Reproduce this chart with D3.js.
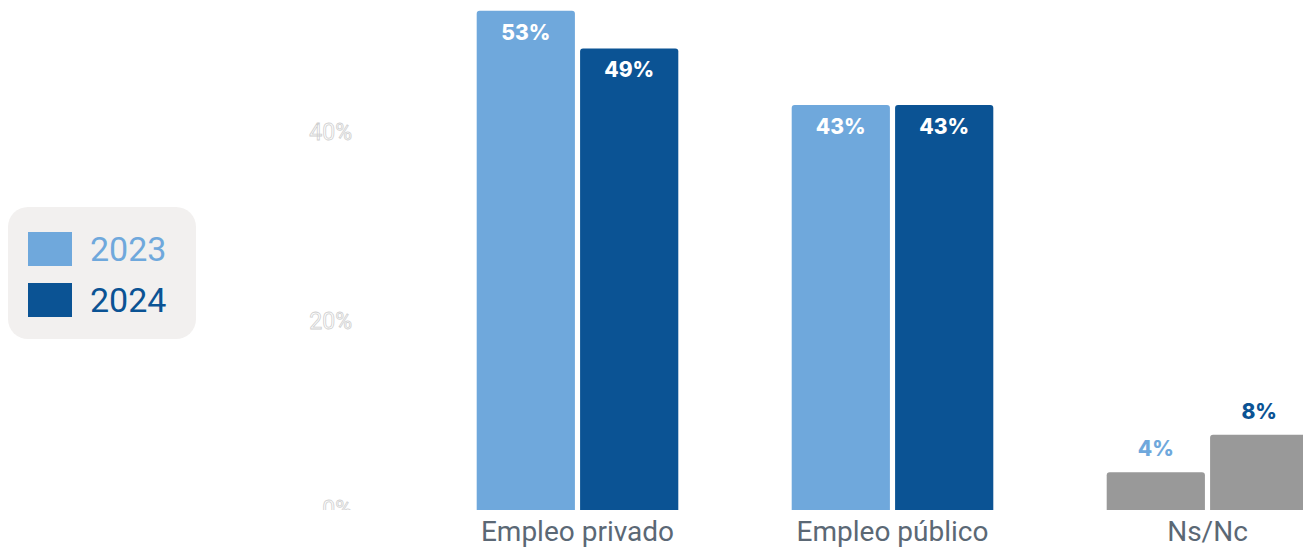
<!DOCTYPE html>
<html>
<head>
<meta charset="utf-8">
<script src="https://cdn.jsdelivr.net/npm/d3@7"></script>
<style>
  html, body { margin: 0; padding: 0; background: #fff; }
  svg { display: block; font-family: Roboto, "Noto Sans", sans-serif; }
</style>
</head>
<body>
<div id="chart"></div>
<script>
// datos
const categorias = ["Empleo privado", "Empleo público", "Ns/Nc"];
const anios = ["2023", "2024"];
const valores2023 = [53, 43, 4];
const valores2024 = [49, 43, 8];
const ticksY = [0, 20, 40];

const colores = { "2023": "#6fa8dc", "2024": "#0b5394" };
const gris = "#999999";

const W = 1303, H = 548;
const base = 510; // línea del 0%

const svg = d3.select("#chart").append("svg")
    .attr("width", W)
    .attr("height", H);

const datos = categorias.map((c, i) => ({
    cat: c,
    vals: [
        { anio: "2023", v: valores2023[i] },
        { anio: "2024", v: valores2024[i] }
    ]
}));

// escalas
const x0 = d3.scaleBand()
    .domain(categorias)
    .range([420, 1365])
    .paddingInner(0.36)
    .paddingOuter(0.18);

const x1 = d3.scaleBand()
    .domain(anios)
    .range([0, x0.bandwidth()])
    .paddingInner(0.05);

const y = d3.scaleLinear()
    .domain([0, 20])
    .range([base, base - 188.4]);

// clip para el eje (el 0% queda cortado)
svg.append("defs").append("clipPath").attr("id", "clipY")
    .append("rect").attr("x", 0).attr("y", 0).attr("width", W).attr("height", base);

// eje Y: etiquetas blancas con borde gris
svg.append("g")
    .attr("clip-path", "url(#clipY)")
    .selectAll("text")
    .data(ticksY)
    .enter()
    .append("text")
    .attr("x", 352)
    .attr("y", d => y(d) - 1)
    .attr("dy", "0.36em")
    .attr("text-anchor", "end")
    .style("font-size", "23px")
    .style("fill", "#fff")
    .style("stroke", "#cfcfcf")
    .style("stroke-width", 0.8)
    .text(d => d + "%");

// barra con esquinas superiores redondeadas
function barPath(x, yTop, w, h, r) {
    r = Math.min(r, h / 2, w / 2);
    return `M${x},${yTop + h}V${yTop + r}Q${x},${yTop} ${x + r},${yTop}` +
        `H${x + w - r}Q${x + w},${yTop} ${x + w},${yTop + r}V${yTop + h}Z`;
}

const grupos = svg.selectAll(".grupo")
    .data(datos)
    .enter()
    .append("g")
    .attr("class", "grupo")
    .attr("transform", d => `translate(${x0(d.cat)},0)`);

grupos.selectAll("path")
    .data(d => d.vals.map(v => ({ ...v, cat: d.cat })))
    .enter()
    .append("path")
    .attr("d", d => barPath(x1(d.anio), y(d.v), x1.bandwidth(), base - y(d.v), 3))
    .attr("fill", d => d.cat === "Ns/Nc" ? gris : colores[d.anio]);

// etiquetas de valor
grupos.selectAll(".valor")
    .data(d => d.vals.map(v => ({ ...v, cat: d.cat })))
    .enter()
    .append("text")
    .attr("class", "valor")
    .attr("x", d => x1(d.anio) + x1.bandwidth() / 2)
    .attr("y", d => d.v > 15 ? y(d.v) + 29 : y(d.v) - 16)
    .attr("text-anchor", "middle")
    .style("font-family", "Inter, Roboto, sans-serif")
    .style("font-size", "21px")
    .style("font-weight", 800)
    .style("paint-order", "stroke")
    .style("stroke", d => d.v > 15 ? "none" : "#fff")
    .style("stroke-width", 4)
    .style("stroke-linejoin", "round")
    .style("fill", d => d.v > 15 ? "#fff" : colores[d.anio])
    .text(d => d.v + "%");

// eje X
svg.append("g")
    .selectAll("text")
    .data(categorias)
    .enter()
    .append("text")
    .attr("x", d => x0(d) + x0.bandwidth() / 2)
    .attr("y", 541)
    .attr("text-anchor", "middle")
    .style("font-size", "28px")
    .style("fill", "#5b6875")
    .text(d => d);

// leyenda
const leyenda = svg.append("g");
leyenda.append("rect")
    .attr("x", 8).attr("y", 207)
    .attr("width", 188).attr("height", 132)
    .attr("rx", 20)
    .attr("fill", "#f2f0ef");

const items = leyenda.selectAll(".item")
    .data(anios)
    .enter()
    .append("g")
    .attr("class", "item")
    .attr("transform", (d, i) => `translate(0,${232 + i * 51})`);

items.append("rect")
    .attr("x", 28).attr("y", 0)
    .attr("width", 44).attr("height", 34)
    .attr("fill", d => colores[d]);

items.append("text")
    .attr("x", 90).attr("y", 29)
    .style("font-size", "34px")
    .style("fill", d => colores[d])
    .text(d => d);
</script>
</body>
</html>
